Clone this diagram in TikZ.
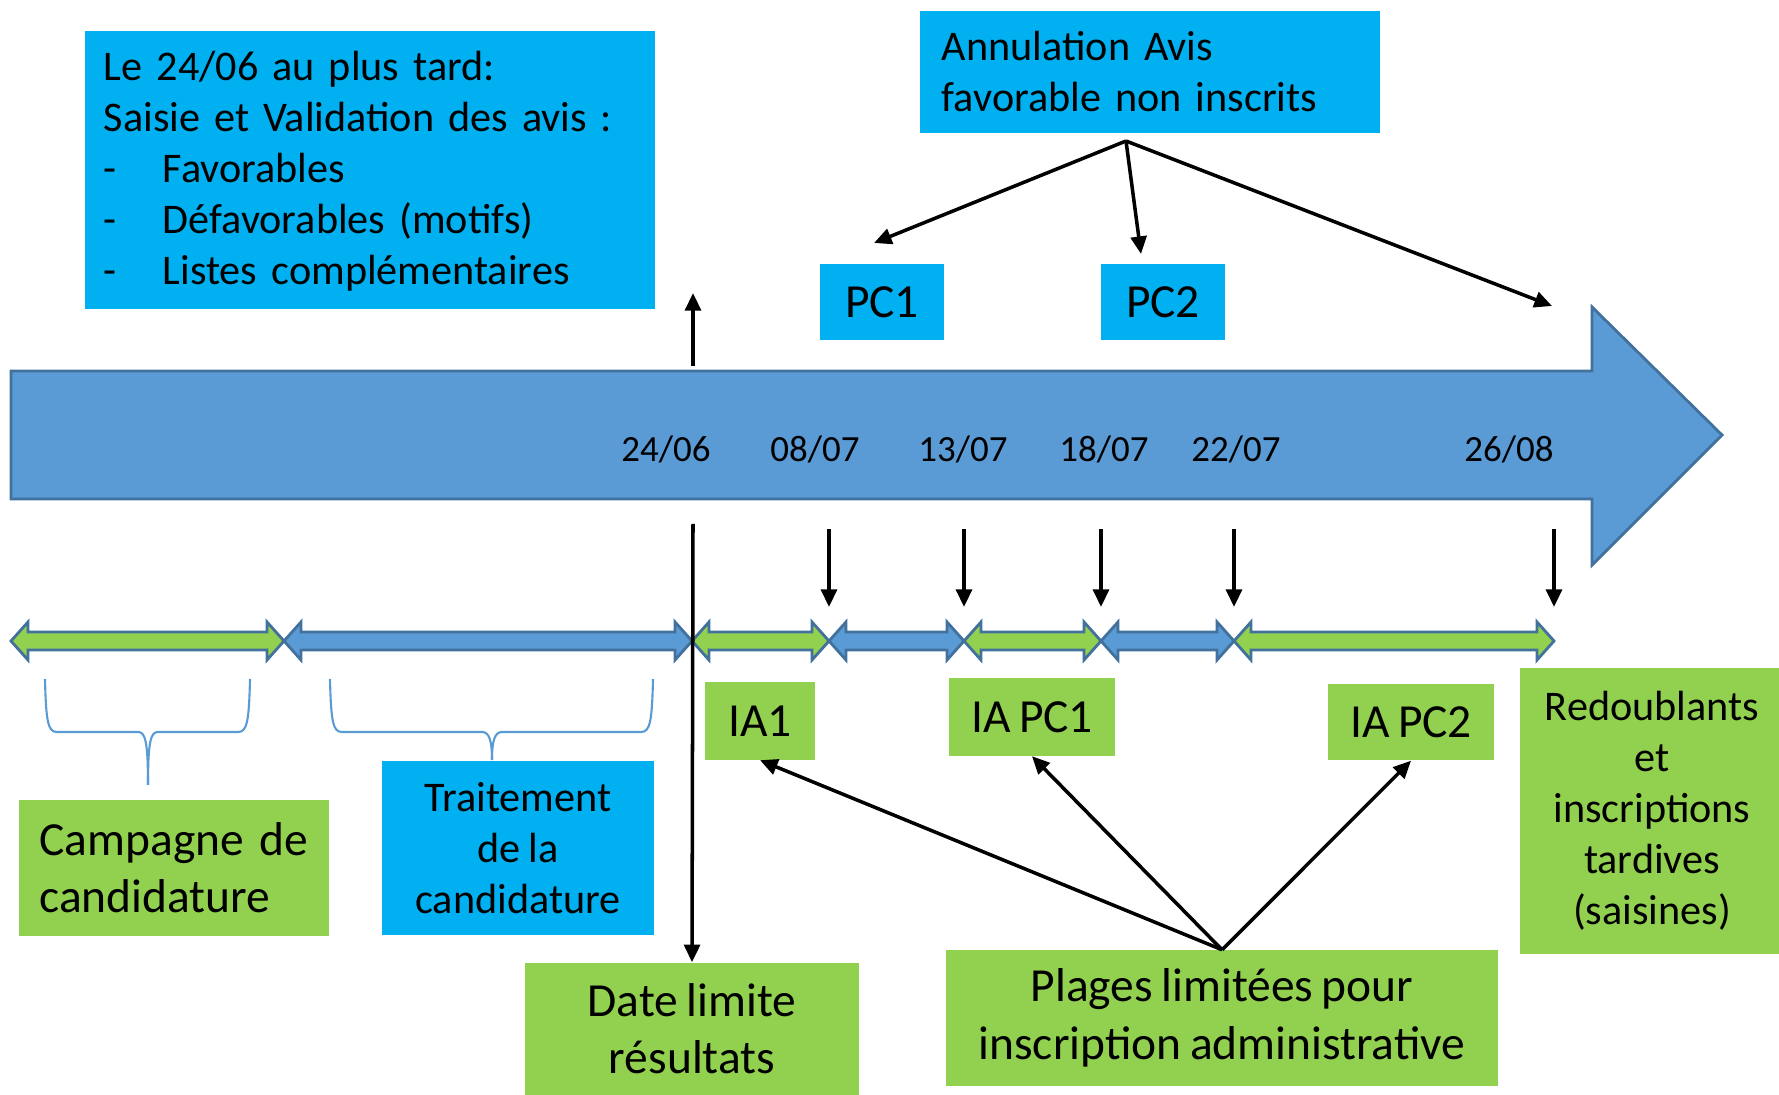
\documentclass[tikz,border=0pt]{standalone}
\usepackage{fontspec}
\setmainfont{Carlito}[WordSpace=0.8]
\usetikzlibrary{arrows.meta, positioning, calc}
\definecolor{boxblue}{HTML}{00B0F0}
\definecolor{boxgreen}{HTML}{92D050}
\definecolor{arrowblue}{HTML}{5B9BD5}
\definecolor{edgeblue}{HTML}{41719C}

\begin{document}
\begin{tikzpicture}[x=0.01cm, y=-0.01cm,
  bluebox/.style={fill=boxblue, inner sep=0pt},
  greenbox/.style={fill=boxgreen, inner sep=0pt},
  txtA/.style={font=\fontsize{12}{14.5}\selectfont},
  txtB/.style={font=\fontsize{13.5}{16.3}\selectfont},
  datelbl/.style={font=\fontsize{10.5}{12}\selectfont},
  arr/.style={-{Triangle[length=5pt,width=4.5pt]}, line width=1pt},
  brace/.style={draw=arrowblue, line width=0.6pt}]
\useasboundingbox (0,0) rectangle (1779,1095);

% Timeline
\filldraw[fill=arrowblue, draw=edgeblue, line width=0.8pt]
  (11,371) -- (1592,371) -- (1592,307) -- (1722,435) -- (1592,565) -- (1592,499) -- (11,499) -- cycle;
\foreach \x/\d/\n in {666/24\slash 06/d1, 815/08\slash 07/d2, 963/13\slash 07/d3,
                      1104/18\slash 07/d4, 1236/22\slash 07/d5, 1509/26\slash 08/d6}
  \node[datelbl] (\n) at (\x,449) {\d};

% Top boxes
\node[bluebox, txtA, minimum width=5.7cm, minimum height=2.78cm, text width=5.32cm,
      inner xsep=0.19cm, align=left] (avis) at (370,170)
  {\rule{0pt}{9pt}Le 24/06 au plus tard:\\
   Saisie et Validation des avis :\\
   \makebox[0.59cm][l]{-}Favorables\\
   \makebox[0.59cm][l]{-}Défavorables (motifs)\\
   \makebox[0.59cm][l]{-}Listes complémentaires};
\node[bluebox, txtA, minimum width=4.6cm, minimum height=1.22cm, text width=4.16cm,
      inner xsep=0.22cm, align=left] (annul) at (1150,72)
  {Annulation Avis\\ favorable non inscrits};
\node[bluebox, txtB, minimum width=1.24cm, minimum height=0.76cm] (pc1) at (882,302) {PC1};
\node[bluebox, txtB, minimum width=1.24cm, minimum height=0.76cm] (pc2) at (1163,302) {PC2};

\coordinate (afoot) at (1126,141);
\coordinate (tpc1) at (874,243);
\coordinate (tpc2) at (1141,254);
\coordinate (tend) at (1552,306);
\draw[arr] (afoot) -- (tpc1);
\draw[arr] (afoot) -- (tpc2);
\draw[arr] (afoot) -- (tend);

\coordinate (upfoot) at (693,366);
\coordinate (uptip) at (693,293);
\draw[arr] (upfoot) -- (uptip);

% Periods
\foreach \a/\b/\col in {11/284/boxgreen, 284/692/arrowblue, 692/829/boxgreen, 829/964/arrowblue,
                        964/1101/boxgreen, 1101/1234/arrowblue, 1234/1554/boxgreen}
  \filldraw[fill=\col, draw=edgeblue, line width=0.8pt]
    (\a,641) -- (\a+17,622) -- (\a+17,632) -- (\b-17,632) -- (\b-17,622) -- (\b,641)
    -- (\b-17,660) -- (\b-17,650) -- (\a+17,650) -- (\a+17,660) -- cycle;

\foreach \x/\n in {829/a, 964/b, 1101/c, 1234/d, 1554/e} {
  \coordinate (top\n) at (\x,529);
  \coordinate (bot\n) at (\x,607);
  \draw[arr] (top\n) -- (bot\n);
}

% Braces
\foreach \l/\r/\m/\t in {45/250/148/785, 330/653/492/760} {
  \draw[brace] (\l,679) .. controls (\l+1,722) and (\l+3,732) .. (\l+12,732) -- (\m-10,732)
    .. controls (\m-3,732) and (\m,740) .. (\m,\t);
  \draw[brace] (\r,679) .. controls (\r-1,722) and (\r-3,732) .. (\r-12,732) -- (\m+10,732)
    .. controls (\m+3,732) and (\m,740) .. (\m,\t);
}

% Bottom boxes
\node[greenbox, txtB, minimum width=3.09cm, minimum height=1.35cm, text width=2.69cm,
      inner xsep=0.2cm, align=left] (campagne) at (174,868) {Campagne de\\ candidature};
\node[bluebox, txtA, minimum width=2.71cm, minimum height=1.74cm, align=center] (traite) at (518,848)
  {Traitement\\ de la\\ candidature};
\node[greenbox, txtB, minimum width=3.33cm, minimum height=1.32cm, align=center] (datelim) at (692,1029)
  {Date limite\\ résultats};
\node[greenbox, txtB, minimum width=1.09cm, minimum height=0.77cm] (ia1) at (760,721) {IA1};
\node[greenbox, txtB, minimum width=1.65cm, minimum height=0.77cm] (iapc1) at (1032,717) {IA PC1};
\node[greenbox, txtB, minimum width=1.65cm, minimum height=0.76cm] (iapc2) at (1411,722) {IA PC2};
\node[greenbox, txtA, minimum width=2.63cm, minimum height=2.85cm, align=center] (redoub) at (1652,811)
  {Redoublants\\ et\\ inscriptions\\ tardives\\ (saisines)};
\node[greenbox, txtB, minimum width=5.52cm, minimum height=1.35cm, align=center] (plages) at (1222,1018)
  {Plages limitées pour\\ inscription administrative};

\coordinate (limfoot) at (693,524);
\draw[arr] (limfoot) -- (datelim.north);
\draw[arr] (plages.north) -- (ia1.south);
\draw[arr] (plages.north) -- (iapc1.south);
\draw[arr] (plages.north) -- (iapc2.south);
\end{tikzpicture}
\end{document}
